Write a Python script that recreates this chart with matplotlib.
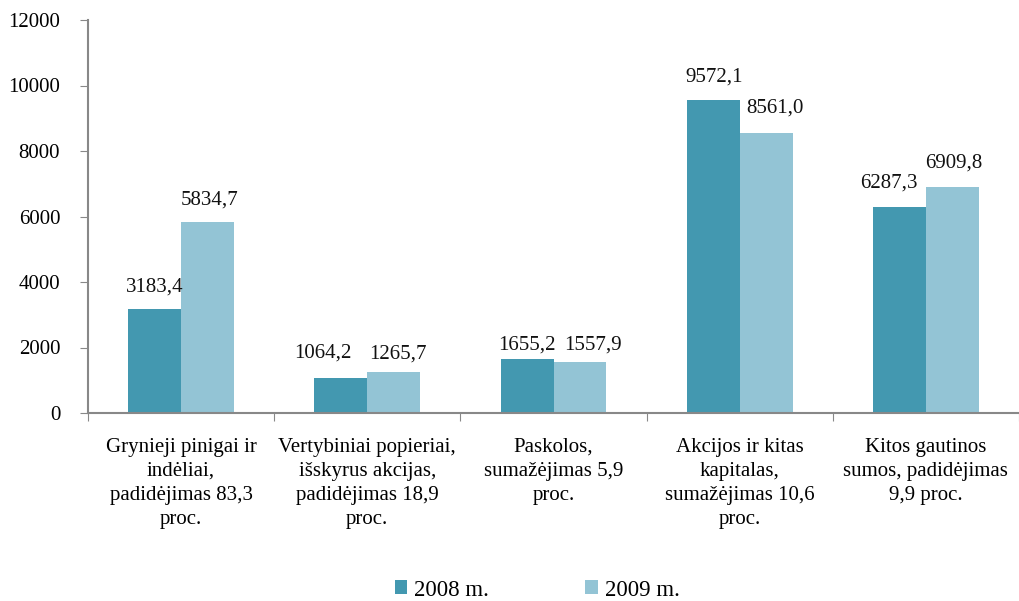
import matplotlib
matplotlib.use("Agg")
import matplotlib.pyplot as plt
import numpy as np

categories = [
    "Grynieji pinigai ir\nindėliai,\npadidėjimas 83,3\nproc.",
    "Vertybiniai popieriai,\nišskyrus akcijas,\npadidėjimas 18,9\nproc.",
    "Paskolos,\nsumažėjimas 5,9\nproc.",
    "Akcijos ir kitas\nkapitalas,\nsumažėjimas 10,6\nproc.",
    "Kitos gautinos\nsumos, padidėjimas\n9,9 proc.",
]
series_names = ["2008 m.", "2009 m."]
values_2008 = [3183.4, 1064.2, 1655.2, 9572.1, 6287.3]
values_2009 = [5834.7, 1265.7, 1557.9, 8561.0, 6909.8]
labels_2008 = ["3183,4", "1064,2", "1655,2", "9572,1", "6287,3"]
labels_2009 = ["5834,7", "1265,7", "1557,9", "8561,0", "6909,8"]

# label offsets (pixels) relative to bar top centre
off_2008 = [(0, 22), (-18, 25), (0, 14), (1, 22), (-11, 24)]
off_2009 = [(2, 22), (4, 18), (13, 17), (9, 25), (1, 24)]

colors = ["#4398B0", "#93C4D5"]

plt.rcParams['font.family'] = ['Liberation Serif', 'DejaVu Serif']
FS = 15

fig = plt.figure(figsize=(10.19, 6.01), dpi=100)
ax = fig.add_axes([88/1019, 1-413/601, (1019-88)/1019, 393/601])

x = np.arange(len(categories))
w = 0.284
b1 = ax.bar(x - w/2, values_2008, w, color=colors[0], label=series_names[0])
b2 = ax.bar(x + w/2, values_2009, w, color=colors[1], label=series_names[1])

for bars, labs, offs in [(b1, labels_2008, off_2008), (b2, labels_2009, off_2009)]:
    for rect, lab, (dx, dy) in zip(bars, labs, offs):
        ax.annotate(lab, (rect.get_x() + rect.get_width()/2, rect.get_height()),
                    xytext=(dx, dy), textcoords='offset pixels',
                    ha='center', va='center', fontsize=FS, color='#111111')

ax.set_ylim(0, 12000)
ax.set_yticks(range(0, 12001, 2000))
ax.set_xlim(-0.5, -0.5 + 931/187.4)

ax.set_xticks(np.arange(len(categories) + 1) - 0.5)
ax.set_xticklabels([])
ax.tick_params(axis='x', length=6, color='#888888', direction='out')
ax.set_xticks(x, minor=True)
ax.set_xticklabels(categories, minor=True, fontsize=FS, linespacing=1.36)
ax.tick_params(axis='x', which='minor', length=0, pad=18)
for t in ax.get_xticklabels(minor=True):
    t.set_verticalalignment('top')

ax.tick_params(axis='y', length=6, color='#888888', labelsize=FS, pad=14)
for s in ['top', 'right']:
    ax.spines[s].set_visible(False)
for s in ['left', 'bottom']:
    ax.spines[s].set_color('#888888')
    ax.spines[s].set_linewidth(1.5)

fig.legend(handles=[b1, b2], labels=series_names, loc='center',
           bbox_to_anchor=(537/1019, 1-590/601), ncol=2, frameon=False,
           fontsize=16.5, handlelength=0.55, handleheight=0.55,
           handletextpad=0.3, columnspacing=4.2)

fig.savefig("out.png", dpi=100)
